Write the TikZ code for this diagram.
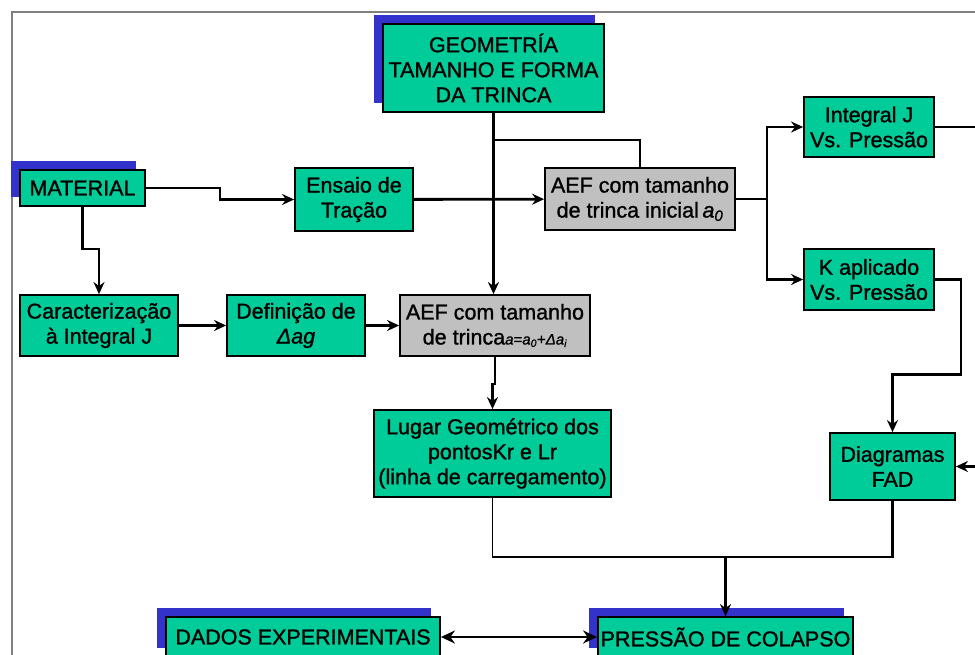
\documentclass[tikz,border=0pt]{standalone}
\usepackage{fontspec}
\setmainfont{Liberation Sans}
\newfontfamily\boxfont[FakeBold=1.2]{Liberation Sans}
\usepackage{tikz}
\usetikzlibrary{shapes}
\usetikzlibrary{arrows.meta}
\usetikzlibrary{shadows}
\definecolor{boxgreen}{RGB}{0,204,153}
\definecolor{boxgrey}{RGB}{192,192,192}
\definecolor{shadowblue}{RGB}{51,51,204}
\definecolor{framegrey}{RGB}{128,128,128}
\tikzset{
  main node/.style={rectangle,draw,line width=1.8pt,fill=boxgreen,align=center,inner sep=0pt,font=\boxfont\fontsize{21.5}{25}\selectfont},
  fea node/.style={main node,fill=boxgrey},
  title node/.style={main node,general shadow={fill=shadowblue,shadow xshift=-9pt,shadow yshift=9pt}},
  thin line/.style={line width=1.3pt}
}

\begin{document}
\begin{tikzpicture}[->,>={Stealth[length=12pt,width=11pt]},x=1pt,y=-1pt,line width=2.8pt]
  \useasboundingbox (0,0) rectangle (975,654);
  \clip (0,0) rectangle (975,654);
  \draw [-,framegrey,line width=2pt] (12,660) |- (980,12);

  \node [title node,minimum width=221pt,minimum height=88pt] (geom) at (493.5,68) {GEOMETRÍA\\TAMANHO E FORMA\\DA TRINCA};
  \node [title node,minimum width=125pt,minimum height=36pt] (material) at (82.5,188) {MATERIAL};
  \node [main node,minimum width=118pt,minimum height=63pt] (ensaio) at (354,199.5) {Ensaio de\\Tração};
  \node [fea node,minimum width=190pt,minimum height=62pt] (aef1) at (640,199) {AEF com tamanho\\de trinca inicial\,\textit{a}\textsubscript{\textit{0}}};
  \node [main node,minimum width=130pt,minimum height=60pt] (intj) at (869,127) {Integral J\\Vs. Pressão};
  \node [main node,minimum width=130pt,minimum height=61pt] (kap) at (869,279.5) {K aplicado\\Vs. Pressão};
  \node [main node,minimum width=158pt,minimum height=61pt] (carac) at (99,325.5) {Caracterização\\à Integral J};
  \node [main node,minimum width=138pt,minimum height=61pt] (defi) at (296,325.5) {Definição de\\\textit{Δag}};
  \node [fea node,minimum width=190pt,minimum height=61pt] (aef2) at (495,325.5) {AEF com tamanho\\de trinca{\fontsize{15}{15}\selectfont\textit{a}=\textit{a}\textsubscript{\textit{0}}+\textit{Δa}\textsubscript{\textit{i}}}};
  \node [main node,minimum width=237pt,minimum height=87pt] (lugar) at (492.5,453.5) {Lugar Geométrico dos\\pontosKr e Lr\\(linha de carregamento)};
  \node [main node,minimum width=125pt,minimum height=67pt] (fad) at (892.5,466.5) {Diagramas\\FAD};
  \node [title node,minimum width=274pt,minimum height=40pt] (dados) at (303,637) {DADOS EXPERIMENTAIS};
  \node [title node,minimum width=255pt,minimum height=40pt] (pressao) at (725.5,637) {PRESSÃO DE COLAPSO};
  \coordinate (join) at (725.5,557);

  \draw (material.east) -- ++(74,0) |- (ensaio.west);
  \draw (material.south) -- ++(0,42) -| (carac.north);
  \draw (carac) -- (defi);
  \draw (defi) -- (aef2);
  \draw (ensaio) -- (aef1);
  \draw (geom.south) -- (geom.south |- aef2.north);
  \draw [-,thin line] (geom.south) ++(0,27) -| (aef1.north);
  \draw (aef1.east) -- ++(31,0) |- (intj.west);
  \draw (aef1.east) -- ++(31,0) |- (kap.west);
  \draw (intj.east) -- ++(60,0) |- (fad.east);
  \draw (kap.east) -- ++(26,0) -- ++(0,95) -| (fad.north);
  \draw (aef2.south) -- ++(0,27) -| (lugar.north);
  \draw [-,thin line] (lugar.south) |- (join);
  \draw [-] (fad.south) |- (join);
  \draw (join) -- (pressao.north);
  \draw [{Stealth[length=14pt,width=13pt]}-{Stealth[length=14pt,width=13pt]}] (dados) -- (pressao);
\end{tikzpicture}
\end{document}
